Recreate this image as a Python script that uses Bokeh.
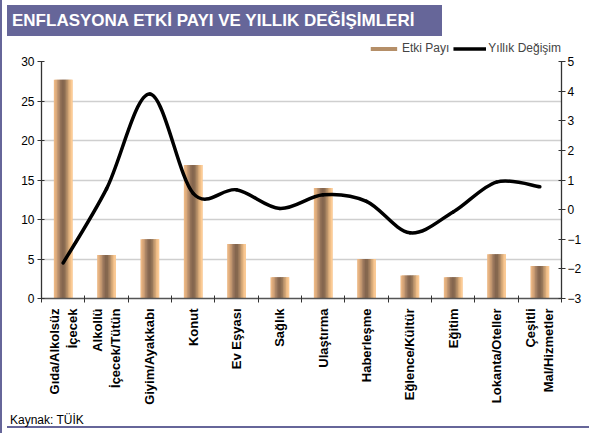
import math
from bokeh.plotting import figure
from bokeh.layouts import column
from bokeh.models import (Range1d, LinearAxis, FixedTicker, Legend, LegendItem,
                          ColumnDataSource, Div)
from bokeh.embed import file_html
from bokeh.resources import INLINE

# ---- data ----
categories = ["Gıda/Alkolsüz\nİçecek", "Alkollü\nİçecek/Tütün", "Giyim/Ayakkabı", "Konut",
              "Ev Eşyası", "Sağlık", "Ulaştırma", "Haberleşme", "Eğlence/Kültür", "Eğitim",
              "Lokanta/Oteller", "Çeşitli\nMal/Hizmetler"]
etki_payi = [27.7, 5.5, 7.5, 16.9, 6.9, 2.7, 14.0, 5.0, 2.9, 2.7, 5.6, 4.1]
yillik_degisim = [-1.8, 0.7, 3.9, 0.55, 0.67, 0.04, 0.5, 0.28, -0.78, -0.08, 0.93, 0.77]
left_ticks = [0, 5, 10, 15, 20, 25, 30]
right_ticks = [-3, -2, -1, 0, 1, 2, 3, 4, 5]
series_names = ["Etki Payı", "Yıllık Değişim"]
title_text = "ENFLASYONA ETKİ PAYI VE YILLIK DEĞİŞİMLERİ"
source_text = "Kaynak: TÜİK"

# ---- style ----
PURPLE = "#666699"
FONT = "Liberation Sans"
W = 582
BANNER_W, BANNER_H, LEG_H, MAIN_H, FOOT_H = 435, 31, 14, 352, 16
grad = ["#ecb884", "#dcaa7c", "#c49871", "#a98365", "#927158", "#84664f",
        "#86684f", "#98785a", "#b58f68", "#d4a776", "#eebd88", "#fccb94"]

n = len(categories)
centers = [i + 0.5 for i in range(n)]

# ================= banner =================
banner = Div(text=f'<div style="padding-left:5px;line-height:{BANNER_H}px;font-family:\'{FONT}\';'
                  f'font-weight:bold;font-size:17px;color:white;white-space:nowrap;">{title_text}</div>',
             width=BANNER_W, height=BANNER_H,
             styles={"background-color": PURPLE})

# ================= legend row =================
head = figure(width=W, height=LEG_H, x_axis_type=None, y_axis_type=None,
              output_backend="svg", toolbar_location=None, min_border=0,
              background_fill_color="white", border_fill_color="white")
head.outline_line_color = None
leg_bar = head.vbar(x=centers, top=etki_payi, width=0.43, fill_color=grad[8],
                    line_color=None, visible=False)
leg_line = head.line(x=centers, y=yillik_degisim, line_color="black", line_width=3.5,
                     visible=False)
legend = Legend(items=[LegendItem(label=series_names[0], renderers=[leg_bar]),
                       LegendItem(label=series_names[1], renderers=[leg_line])],
                orientation="horizontal", location="top_right", click_policy="none",
                glyph_width=33, glyph_height=5, label_text_font_size="12px",
                label_text_font=FONT, label_standoff=2, spacing=4, padding=0, margin=0,
                border_line_color=None, background_fill_alpha=0, label_height=12,
                inactive_fill_alpha=0)
head.add_layout(legend)

# ================= main chart =================
p = figure(width=W, height=MAIN_H, x_range=Range1d(0, n), y_range=Range1d(0, 30),
           output_backend="svg", toolbar_location=None,
           min_border_left=39, min_border_right=18, min_border_top=6, min_border_bottom=0,
           background_fill_color="white", border_fill_color="white")
p.outline_line_color = None
p.extra_y_ranges = {"right": Range1d(-3, 5)}

# gradient bars made of overlapping thin strips
bw = 0.43
sw = bw / len(grad)
xs, ws, tops, cols = [], [], [], []
for c, v in zip(centers, etki_payi):
    for k, col in enumerate(grad):
        w = sw * 2 if k < len(grad) - 1 else sw
        xs.append(c - bw / 2 + k * sw + w / 2)
        ws.append(w)
        tops.append(v)
        cols.append(col)
bar_src = ColumnDataSource(dict(x=xs, w=ws, top=tops, color=cols))
p.vbar(x="x", top="top", bottom=0, width="w", fill_color="color", line_color=None, source=bar_src)

# smooth line (Catmull-Rom as cubic Bezier segments)
pts = list(zip(centers, yillik_degisim))
seg = dict(x0=[], y0=[], x1=[], y1=[], cx0=[], cy0=[], cx1=[], cy1=[])
for i in range(len(pts) - 1):
    p0 = pts[i - 1] if i > 0 else pts[i]
    p1 = pts[i]
    p2 = pts[i + 1]
    p3 = pts[i + 2] if i + 2 < len(pts) else pts[i + 1]
    seg["x0"].append(p1[0]); seg["y0"].append(p1[1])
    seg["x1"].append(p2[0]); seg["y1"].append(p2[1])
    seg["cx0"].append(p1[0] + (p2[0] - p0[0]) / 6); seg["cy0"].append(p1[1] + (p2[1] - p0[1]) / 6)
    seg["cx1"].append(p2[0] - (p3[0] - p1[0]) / 6); seg["cy1"].append(p2[1] - (p3[1] - p1[1]) / 6)
p.bezier(x0="x0", y0="y0", x1="x1", y1="y1", cx0="cx0", cy0="cy0", cx1="cx1", cy1="cy1",
         source=ColumnDataSource(seg), y_range_name="right",
         line_color="black", line_width=3.5, line_cap="round")

# axes
def style_axis(ax):
    ax.axis_line_color = "#333333"
    ax.axis_line_width = 1.3
    ax.major_tick_line_color = "#333333"
    ax.minor_tick_line_color = "#333333"
    ax.major_label_text_font = FONT
    ax.major_label_text_color = "black"

yl = p.yaxis[0]
yl.ticker = FixedTicker(ticks=left_ticks)
style_axis(yl)
yl.major_tick_in = 3
yl.major_tick_out = 4
yl.minor_tick_in = 0
yl.minor_tick_out = 0
yl.major_label_text_font_size = "12px"
yl.major_label_standoff = 3

yr = LinearAxis(y_range_name="right", ticker=FixedTicker(ticks=right_ticks))
style_axis(yr)
yr.major_tick_in = 3
yr.major_tick_out = 4
yr.minor_tick_in = 0
yr.minor_tick_out = 0
yr.major_label_text_font_size = "12px"
yr.major_label_standoff = 2
p.add_layout(yr, "right")

xa = p.xaxis[0]
xa.ticker = FixedTicker(ticks=centers, minor_ticks=list(range(0, n + 1)))
xa.major_label_overrides = {c: lab for c, lab in zip(centers, categories)}
style_axis(xa)
xa.axis_line_color = "#555555"
xa.major_tick_in = 0
xa.major_tick_out = 0
xa.minor_tick_in = 3
xa.minor_tick_out = 4
xa.major_label_orientation = math.pi / 2
xa.major_label_text_font_size = "13px"
xa.major_label_text_font_style = "bold"
xa.major_label_standoff = 6

p.xgrid.visible = False
p.ygrid.grid_line_color = "#cfcfcf"
p.ygrid.grid_line_width = 1.5

# ================= footer =================
foot = Div(text=f'<div style="padding-left:3px;line-height:13px;font-family:\'{FONT}\';'
                f'font-size:12px;color:black;white-space:nowrap;">{source_text}</div>',
           width=W, height=FOOT_H,
           styles={"border-bottom": f"2px solid {PURPLE}"})

lay = column(banner, head, p, foot, spacing=0,
             styles={"border-left": f"2px solid {PURPLE}"})

open("out.html", "w").write(file_html(lay, INLINE))
